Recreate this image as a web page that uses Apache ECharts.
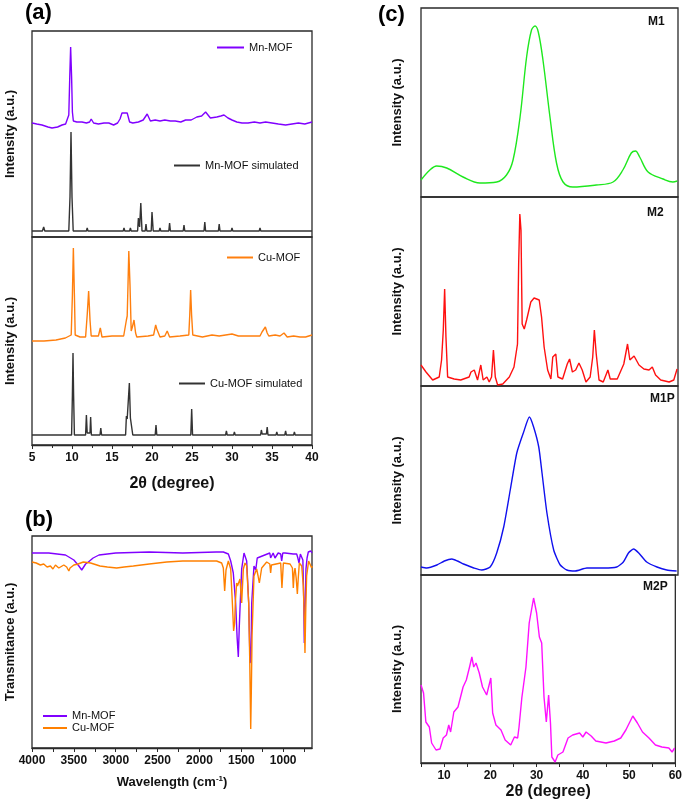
<!DOCTYPE html>
<html>
<head>
<meta charset="utf-8">
<script src="https://cdn.jsdelivr.net/npm/echarts@6/dist/echarts.min.js"></script>
<style>
html,body{margin:0;padding:0;background:#fff;}
#chart{width:685px;height:804px;}
</style>
</head>
<body>
<div id="chart"></div>
<script>
// ---------- Panel (a): XRD, 2θ (degree) vs intensity (a.u.) ----------
const mnMof = [[5,114],[5.6,113],[6.25,112],[7.0,110],[7.5,109],[8.2,110],[8.75,112],[9.2,113],[9.4,114],[9.6,122],[9.72,160],[9.83,190],[9.95,160],[10.05,125],[10.17,116],[10.6,115],[11.25,115],[11.8,114],[12.2,115],[12.4,118],[12.7,114],[13.3,113],[14.0,114],[14.6,114],[15.2,112],[15.7,114],[16.0,118],[16.25,124],[16.5,123],[16.9,124],[17.2,115],[17.6,114],[18.3,115],[18.9,117],[19.4,123],[19.8,116],[20.4,117],[21.0,116],[21.6,117],[22.3,116],[22.9,116],[23.6,115],[24.2,117],[24.9,117],[25.6,120],[26.2,121],[26.7,125],[27.3,119],[28.1,120],[28.6,121],[29.0,122],[29.5,119],[30.0,117],[30.6,115],[31.25,114],[32.0,114],[32.8,115],[33.5,114],[34.2,115],[35.0,114],[35.8,113],[36.7,112],[37.5,113],[38.3,114],[39.1,113],[40,115]];
const mnMofSim = [[5,6],[6.3,6],[6.46,10],[6.6,6],[9.6,6],[9.75,40],[9.875,105],[10.0,40],[10.15,6],[11.8,6],[11.9,9],[12.0,6],[14.5,6],[14.6,8],[14.7,6],[16.4,6],[16.5,9],[16.6,6],[17.2,6],[17.3,9],[17.4,6],[18.2,6],[18.3,19],[18.45,10],[18.6,34],[18.75,6],[19.15,6],[19.25,13],[19.35,6],[19.9,6],[20.0,25],[20.15,6],[20.9,6],[21.0,9],[21.1,6],[22.1,6],[22.2,14],[22.3,6],[23.9,6],[24.0,12],[24.1,6],[26.5,6],[26.6,15],[26.7,6],[28.3,6],[28.4,13],[28.5,6],[29.9,6],[30.0,9],[30.1,6],[31.15,6],[31.25,8],[31.35,6],[33.4,6],[33.5,9],[33.6,6],[34.5,6],[34.6,8],[34.7,6],[35.9,6],[36.0,8],[36.1,6],[38.0,6],[38.1,8],[38.2,6],[40,6]];
const cuMof = [[5,104],[6.5,104],[8.0,105],[9.17,107],[9.9,110],[10.05,150],[10.17,197],[10.3,150],[10.4,110],[11.0,108],[11.7,108],[11.9,130],[12.08,154],[12.25,125],[12.4,109],[13.3,109],[13.54,117],[13.75,108],[15.0,109],[16.46,109],[16.8,125],[16.9,129],[17.0,160],[17.1,194],[17.25,160],[17.4,114],[17.55,118],[17.75,125],[17.95,112],[18.1,108],[19.5,109],[20.2,110],[20.46,120],[20.6,116],[20.75,116],[21.0,108],[21.6,109],[21.9,114],[22.2,108],[23.5,109],[24.6,110],[24.72,130],[24.83,155],[24.95,130],[25.1,110],[26.3,108],[27.5,110],[28.4,109],[29.2,110],[30.0,111],[30.8,109],[32.0,109],[33.5,109],[33.75,113],[34.0,115],[34.17,118],[34.4,112],[34.6,109],[35.4,110],[36.0,109],[36.5,112],[36.9,108],[37.7,109],[38.5,108],[39.2,108],[40,110]];
const cuMofSim = [[5,10],[9.95,10],[10.05,50],[10.125,92],[10.2,50],[10.3,10],[11.7,10],[11.8,30],[11.9,12],[12.25,12],[12.33,28],[12.42,10],[13.5,10],[13.6,17],[13.7,10],[16.7,10],[16.8,29],[16.9,26],[17.0,28],[17.17,62],[17.3,27],[17.45,25],[17.6,10],[20.4,10],[20.5,20],[20.6,10],[24.85,10],[24.96,36],[25.07,10],[27.5,10],[27.6,12],[27.7,10],[29.2,10],[29.3,14],[29.4,10],[30.2,10],[30.3,13],[30.4,10],[31.15,10],[31.25,12],[31.35,10],[33.57,10],[33.67,15],[33.77,11],[34.3,11],[34.4,18],[34.5,10],[35.5,10],[35.6,13],[35.7,10],[36.6,10],[36.7,14],[36.8,10],[37.7,10],[37.8,13],[37.9,10],[40,10]];
const aTicks = [5,10,15,20,25,30,35,40];

// ---------- Panel (b): IR, wavenumber vs transmitance ----------
const mnMofIR = [[4000,195],[3800,195],[3600,193],[3500,188],[3440,182],[3406,178],[3360,184],[3327,186],[3270,190],[3200,193],[3000,195],[2600,196],[2200,195],[1800,196],[1715,196],[1655,194],[1627,187],[1596,175],[1568,145],[1550,110],[1536,91],[1525,120],[1516,139],[1496,179],[1468,195],[1436,187],[1412,145],[1396,85],[1385,90],[1376,145],[1349,182],[1335,180],[1328,178],[1310,190],[1297,191],[1160,195],[1150,190],[1137,189],[1120,195],[1098,190],[1060,195],[1030,194],[1018,187],[1005,195],[978,195],[880,194],[839,194],[825,190],[811,185],[795,194],[779,195],[765,188],[755,150],[748,105],[740,130],[728,179],[715,190],[700,196],[671,197],[656,195]];
const cuMofIR = [[4000,186],[3950,185],[3900,183],[3860,184],[3820,181],[3780,182],[3750,179],[3720,183],[3680,180],[3660,179],[3620,183],[3586,181],[3560,177],[3546,180],[3500,183],[3450,184],[3387,186],[3300,185],[3188,182],[3100,181],[2989,180],[2900,181],[2790,182],[2600,184],[2391,186],[2200,187],[1993,187],[1795,187],[1735,185],[1715,180],[1699,157],[1683,178],[1655,187],[1627,179],[1607,145],[1592,117],[1580,125],[1572,145],[1556,165],[1546,162],[1536,162],[1516,169],[1496,145],[1476,179],[1456,185],[1436,182],[1412,145],[1400,90],[1388,19],[1380,60],[1372,112],[1349,172],[1317,179],[1300,172],[1285,165],[1257,180],[1197,186],[1160,184],[1150,175],[1140,183],[1118,184],[1030,185],[1015,160],[998,185],[918,184],[890,180],[879,160],[869,175],[859,180],[845,170],[831,154],[820,170],[807,185],[779,182],[760,162],[748,130],[740,95],[730,140],[720,172],[696,187],[680,186],[660,180],[656,182]];
const bLabels = [4000,3500,3000,2500,2000,1500,1000];
const bTicks = [4000,3750,3500,3250,3000,2750,2500,2250,2000,1750,1500,1250,1000,750];

// ---------- Panel (c): XRD of M1, M2, M1P, M2P ----------
const m1 = [[5,17],[6.9,27],[8.35,31],[10.5,29],[14,20],[17.6,14],[21.2,15],[23.3,22],[24.7,37],[26.2,80],[27.6,140],[28.65,167],[29.4,171],[30.1,165],[31.1,137],[32.6,80],[34,34],[35.4,15],[37.5,10],[42.5,12],[46.1,15],[48.2,27],[50,44],[50.9,46],[51.8,40],[53.6,25],[56.8,18],[58.9,15],[59.85,16]];
const m2 = [[5,21],[6.07,14],[7.5,6],[8.9,9],[9.4,26],[9.77,56],[10.06,97],[10.34,49],[10.7,9],[12.1,7],[13.5,6],[15.3,9],[15.7,14],[16.4,16],[17.1,6],[17.8,21],[18.3,6],[19.1,9],[19.6,4],[20.1,9],[20.5,36],[20.9,9],[21.4,1],[22.5,2],[23.9,9],[24.9,19],[25.65,42],[25.9,122],[26.15,172],[26.4,156],[26.65,62],[27.1,57],[27.6,66],[28.5,84],[29.2,88],[30.3,86],[30.8,69],[31.35,39],[32.1,16],[32.8,7],[33.2,29],[33.85,32],[34.3,9],[35.3,7],[36.3,22],[36.8,27],[37.4,14],[38.1,16],[38.8,23],[39.5,16],[40.3,4],[41.2,9],[41.75,29],[42.1,56],[42.5,32],[43.1,6],[44.0,4],[45.0,16],[45.5,7],[47.0,7],[48.4,22],[49.2,42],[49.7,26],[50.6,30],[51.65,21],[52.7,17],[53.8,16],[54.5,19],[55.2,11],[56.3,6],[58.1,4],[59.1,6],[59.8,17]];
const m1p = [[5,8],[6.25,7],[8.4,10],[10.0,14],[11.6,16],[12.8,14],[14.1,11],[15.2,9],[16.3,7],[18.0,5],[19.8,8],[21.2,22],[22.7,48],[24.1,85],[25.5,122],[26.9,142],[28.2,158],[29.1,148],[30.2,128],[30.9,102],[31.95,62],[33.4,25],[34.8,10],[36.2,5],[38.0,4],[40.5,7],[44.1,7],[46.9,8],[48.3,13],[49.4,22],[50.5,26],[51.6,22],[53.3,13],[55.5,8],[57.6,5],[59.7,4]];
const m2p = [[5,78],[5.55,70],[6.05,41],[6.8,36],[7.3,20],[8.25,13],[9.1,14],[9.8,25],[10.5,28],[11,38],[11.4,31],[12.1,51],[13.0,56],[14.1,76],[14.8,83],[15.5,96],[16.0,106],[16.4,96],[16.9,100],[17.6,90],[18.3,76],[19.2,68],[19.6,66],[20.1,85],[20.5,50],[21.2,38],[22.3,33],[23.2,23],[24.4,18],[25.2,26],[25.9,25],[26.2,36],[26.8,65],[27.7,96],[28.4,140],[29.35,165],[30.0,150],[30.6,126],[31.1,120],[31.6,66],[32.1,41],[32.6,68],[33.0,40],[33.3,6],[34.0,1],[34.6,8],[35.7,11],[36.8,25],[37.8,28],[39.3,30],[40.0,26],[40.7,31],[41.8,27],[42.8,22],[45.0,20],[46.8,22],[48.2,25],[49.3,33],[50.8,47],[51.8,40],[52.9,31],[54.3,25],[55.7,18],[57.1,16],[58.6,15],[59.3,11],[59.85,15]];
const cLabels = [10,20,30,40,50,60];
const cTicks = [5,10,15,20,25,30,35,40,45,50,55,60];

const FONT = 'Liberation Sans, Arial, sans-serif';
const INK = '#111';
const BORDER = '#2a2a2a';

const chart = echarts.init(document.getElementById('chart'), null, {renderer: 'canvas'});

function grid(left, top, width, height) {
  return {left, top, width, height, show: true, borderColor: BORDER, borderWidth: 1.3, backgroundColor: 'transparent', containLabel: false};
}
function yAx(gi, max, name, gap) {
  return {type: 'value', gridIndex: gi, min: 0, max,
    axisLine: {show: false}, axisTick: {show: false}, axisLabel: {show: false}, splitLine: {show: false},
    name: name, nameLocation: 'middle', nameGap: gap,
    nameTextStyle: {fontFamily: FONT, fontSize: 13, fontWeight: 'bold', color: INK}};
}
function hiddenX(gi, min, max) {
  return {type: 'value', gridIndex: gi, min, max, show: true,
    axisLine: {show: false}, axisTick: {show: false}, axisLabel: {show: false}, splitLine: {show: false}};
}
const plain = v => String(v);
const labelStyle = {fontFamily: FONT, fontSize: 12, fontWeight: 'bold', color: INK, margin: 7, formatter: plain};

function line(name, data, xi, color, extra) {
  return Object.assign({type: 'line', name, data, xAxisIndex: xi, yAxisIndex: xi, showSymbol: false, symbol: 'none',
    lineStyle: {color, width: 1.4}, itemStyle: {color}, animation: false, z: 3}, extra || {});
}
function leg(name, left, top, w) {
  return {data: [name], left, top, icon: 'rect', itemWidth: w, itemHeight: 2, padding: 0, itemGap: 5, selectedMode: false,
    textStyle: {fontFamily: FONT, fontSize: 11, color: INK}};
}

const option = {
  backgroundColor: '#fff',
  animation: false,
  grid: [
    grid(32, 31, 280, 206),
    grid(32, 237, 280, 208),
    grid(32, 536, 280, 212),
    grid(421, 8, 257, 189),
    grid(421, 197, 257, 189),
    grid(421, 386, 257, 189),
    grid(421, 575, 257, 188)
  ],
  xAxis: [
    hiddenX(0, 5, 40),
    {type: 'value', gridIndex: 1, min: 5, max: 40, interval: 5,
      axisLine: {show: true, lineStyle: {color: BORDER, width: 1.3}},
      axisTick: {show: true, length: 4, lineStyle: {color: BORDER}},
      minorTick: {show: true, splitNumber: 2, length: 3, lineStyle: {color: BORDER}},
      axisLabel: Object.assign({customValues: aTicks}, labelStyle), splitLine: {show: false},
      name: '2θ (degree)', nameLocation: 'middle', nameGap: 31,
      nameTextStyle: {fontFamily: FONT, fontSize: 16, fontWeight: 'bold', color: INK}},
    {type: 'value', gridIndex: 2, min: 656, max: 4000, inverse: true,
      axisLine: {show: true, lineStyle: {color: BORDER, width: 1.3}},
      axisTick: {show: true, length: 4, customValues: bTicks, lineStyle: {color: BORDER}},
      axisLabel: Object.assign({customValues: bLabels}, labelStyle), splitLine: {show: false},
      name: 'Wavelength (cm{sup|-1})', nameLocation: 'middle', nameGap: 27,
      nameTextStyle: {fontFamily: FONT, fontSize: 13, fontWeight: 'bold', color: INK,
        rich: {sup: {fontFamily: FONT, fontSize: 8, fontWeight: 'bold', color: INK, verticalAlign: 'top', padding: [0, 0, 6, 0]}}}},
    hiddenX(3, 5, 60),
    hiddenX(4, 5, 60),
    hiddenX(5, 5, 60),
    {type: 'value', gridIndex: 6, min: 5, max: 60,
      axisLine: {show: true, lineStyle: {color: BORDER, width: 1.3}},
      axisTick: {show: true, length: 4, customValues: cTicks, lineStyle: {color: BORDER}},
      axisLabel: Object.assign({customValues: cLabels}, labelStyle), splitLine: {show: false},
      name: '2θ (degree)', nameLocation: 'middle', nameGap: 21,
      nameTextStyle: {fontFamily: FONT, fontSize: 16, fontWeight: 'bold', color: INK}}
  ],
  yAxis: [
    yAx(0, 206, 'Intensity (a.u.)', 15),
    yAx(1, 208, 'Intensity (a.u.)', 15),
    yAx(2, 212, 'Transmitance (a.u.)', 15),
    yAx(3, 189, 'Intensity (a.u.)', 17),
    yAx(4, 189, 'Intensity (a.u.)', 17),
    yAx(5, 189, 'Intensity (a.u.)', 17),
    yAx(6, 188, 'Intensity (a.u.)', 17)
  ],
  legend: [
    leg('Mn-MOF', 217, 42, 27),
    leg('Mn-MOF simulated', 174, 160, 26),
    leg('Cu-MOF', 227, 252, 26),
    leg('Cu-MOF simulated', 179, 378, 26),
    {data: ['Mn-MOF ', 'Cu-MOF '], orient: 'vertical', left: 43, top: 710, icon: 'rect', itemWidth: 24, itemHeight: 2,
      itemGap: 0, padding: 0, selectedMode: false,
      textStyle: {fontFamily: FONT, fontSize: 11, lineHeight: 12, color: INK}}
  ],
  series: [
    line('Mn-MOF', mnMof, 0, '#8000ff'),
    line('Mn-MOF simulated', mnMofSim, 0, '#333333'),
    line('Cu-MOF', cuMof, 1, '#ff7f0e'),
    line('Cu-MOF simulated', cuMofSim, 1, '#333333'),
    line('Mn-MOF ', mnMofIR, 2, '#8000ff'),
    line('Cu-MOF ', cuMofIR, 2, '#ff8000'),
    line('M1', m1, 3, '#1ee81e', {smooth: 0.35}),
    line('M2', m2, 4, '#ff1010'),
    line('M1P', m1p, 5, '#1010ee', {smooth: 0.2}),
    line('M2P', m2p, 6, '#ff10ff')
  ],
  graphic: [
    {type: 'text', left: 25, top: 2, style: {text: '(a)', font: 'bold 22px ' + FONT, fill: '#000'}},
    {type: 'text', left: 25, top: 509, style: {text: '(b)', font: 'bold 22px ' + FONT, fill: '#000'}},
    {type: 'text', left: 378, top: 4, style: {text: '(c)', font: 'bold 22px ' + FONT, fill: '#000'}},
    {type: 'text', left: 648, top: 16, style: {text: 'M1', font: 'bold 12px ' + FONT, fill: INK}},
    {type: 'text', left: 647, top: 207, style: {text: 'M2', font: 'bold 12px ' + FONT, fill: INK}},
    {type: 'text', left: 650, top: 393, style: {text: 'M1P', font: 'bold 12px ' + FONT, fill: INK}},
    {type: 'text', left: 643, top: 581, style: {text: 'M2P', font: 'bold 12px ' + FONT, fill: INK}}
  ]
};
chart.setOption(option);
</script>
</body>
</html>
